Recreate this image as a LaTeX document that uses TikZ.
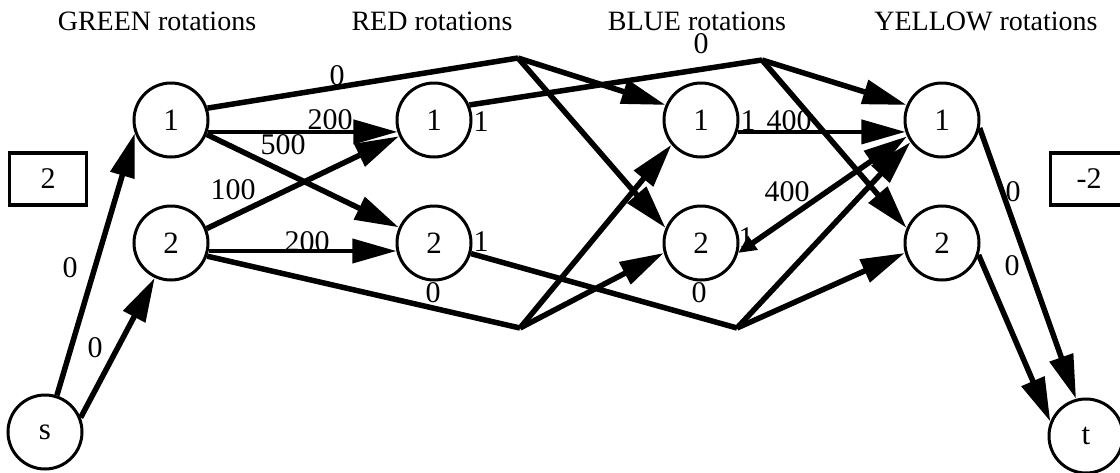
\documentclass[tikz,border=0pt]{standalone}
\usepackage{fontspec}
\setmainfont{Liberation Serif}
\usetikzlibrary{arrows.meta}
\begin{document}
\begin{tikzpicture}[x=1pt,y=-1pt,
  every node/.style={font=\fontsize{30}{32}\selectfont},
  title/.style={inner sep=0pt,font=\fontsize{28}{30}\selectfont},
  vert/.style={circle,draw,line width=3pt,minimum size=74pt,inner sep=0pt,fill=white,font=\fontsize{31}{33}\selectfont},
  arr/.style={line width=5.5pt,line join=miter,-{Triangle[length=44pt,width=24pt]}},
  arrthin/.style={arr,line width=4pt},
  seg/.style={line width=5.5pt,line join=miter},
  lab/.style={inner sep=0pt},
  wbox/.style={draw,line width=3.5pt,minimum width=77pt,minimum height=52pt,inner sep=0pt}]
\useasboundingbox (0,0) rectangle (1120,472);
% titles
\node[title] (tg) at (157,21) {GREEN rotations};
\node[title] (tr) at (432,21) {RED rotations};
\node[title] (tb) at (697,21) {BLUE rotations};
\node[title] (ty) at (986,21) {YELLOW rotations};
% vertices
\node[vert] (G1) at (171,120) {1};
\node[vert] (G2) at (171,243) {2};
\node[vert] (R1) at (434,120) {1};
\node[vert] (R2) at (434,243) {2};
\node[vert] (B1) at (701,120) {1};
\node[vert] (B2) at (701,243) {2};
\node[vert] (Y1) at (942,120) {1};
\node[vert] (Y2) at (942,243) {2};
\node[vert] (s) at (45,432) {s};
\node[vert] (t) at (1086,436) {t};
% boxes
\node[wbox] (bl) at (48,179) {2};
\node[wbox] (br) at (1089,179) {-2};
% bend points
\coordinate (P1) at (518,58);
\coordinate (P3) at (762,60);
\coordinate (P2) at (520,328);
\coordinate (P4) at (737,328);
% edges
\draw[arr] (s.72) -- (G1.200);
\draw[arr] (s.22) -- (G2.245);
\draw[seg] (G1.18) -- (P1);
\draw[arr] (P1) -- (B1.157);
\draw[arr] (P1) -- (B2.157);
\draw[arrthin] (G1.-18) -- (R1.198);
\draw[arr] (G1.-22) -- (R2.156);
\draw[arr] (G2.22) -- (R1.205);
\draw[arrthin] (G2.-12) -- (R2.192);
\draw[seg] (G2.-20) -- (P2);
\draw[arr] (P2) -- (B1.220);
\draw[arr] (P2) -- (B2.195);
\draw[seg] (R1.23) -- (P3);
\draw[arr] (P3) -- (Y1.157);
\draw[arr] (P3) -- (Y2.157);
\draw[seg] (R2.-16) -- (P4);
\draw[arr] (P4) -- (Y1.215);
\draw[arr] (P4) -- (Y2.195);
\draw[arrthin] (B1.-18) -- (Y1.198);
\draw[arr,{Triangle[length=18pt,width=16pt]}-{Triangle[length=44pt,width=24pt]}] (B2.-15) -- (Y1.205);
\draw[arr] (Y1.-12) -- (t.105);
\draw[arr] (Y2.-18) -- (t.158);
% edge labels
\node[lab] (l1) at (70,268) {0};
\node[lab] (l2) at (95,348) {0};
\node[lab] (l3) at (337,76) {0};
\node[lab] (l4) at (330,120) {200};
\node[lab] (l5) at (283,145) {500};
\node[lab] (l6) at (233,190) {100};
\node[lab] (l7) at (307,242) {200};
\node[lab] (l8) at (433,293) {0};
\node[lab] (l9) at (481,122) {1};
\node[lab] (l10) at (481,242) {1};
\node[lab] (l11) at (701,44) {0};
\node[lab] (l12) at (748,121) {1};
\node[lab] (l13) at (789,121) {400};
\node[lab] (l14) at (787,192) {400};
\node[lab] (l15) at (746,238) {1};
\node[lab] (l16) at (699,293) {0};
\node[lab] (l17) at (1013,192) {0};
\node[lab] (l18) at (1012,266) {0};
\end{tikzpicture}
\end{document}
